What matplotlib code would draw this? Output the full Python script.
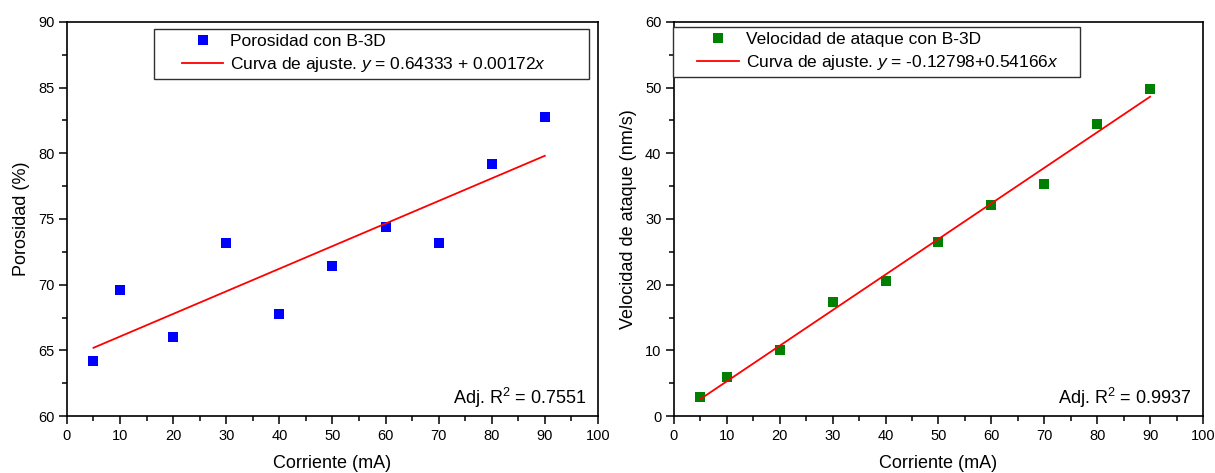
import matplotlib
matplotlib.use("Agg")
import matplotlib.pyplot as plt
from matplotlib.ticker import MultipleLocator
from matplotlib.lines import Line2D
from matplotlib.legend_handler import HandlerLine2D
import numpy as np

plt.rcParams["font.family"] = ["Liberation Sans", "DejaVu Sans"]
plt.rcParams["mathtext.fontset"] = "custom"
plt.rcParams["mathtext.rm"] = "Liberation Sans"
plt.rcParams["mathtext.it"] = "Liberation Sans:italic"

# Data
corriente = [5, 10, 20, 30, 40, 50, 60, 70, 80, 90]
porosidad = [64.2, 69.6, 66.0, 73.2, 67.8, 71.4, 74.4, 73.2, 79.2, 82.8]
velocidad = [2.9, 5.9, 10.0, 17.4, 20.5, 26.5, 32.2, 35.3, 44.5, 49.8]

# Linear fit coefficients (porosity fit given as a fraction)
por_a, por_b = 0.64333, 0.00172
vel_a, vel_b = -0.12798, 0.54166
por_r2 = 0.7551
vel_r2 = 0.9937


class ShiftedHandler(HandlerLine2D):
    """Line handler that leaves an empty gap on the left of the handle box."""

    def __init__(self, gap, **kw):
        super().__init__(**kw)
        self.gap = gap

    def create_artists(self, legend, orig_handle, xdescent, ydescent,
                       width, height, fontsize, trans):
        off = width * self.gap
        return super().create_artists(legend, orig_handle, xdescent - off,
                                      ydescent, width - off, height,
                                      fontsize, trans)


fig = plt.figure(figsize=(12.15, 4.73), dpi=100)
ax1 = fig.add_axes([0.0551, 0.1205, 0.437, 0.833])
ax2 = fig.add_axes([0.5547, 0.1205, 0.4354, 0.833])

xfit = np.array([min(corriente), max(corriente)], dtype=float)


def style_axes(ax, ylim, ymajor, yminor):
    ax.set_xlim(0, 100)
    ax.set_ylim(*ylim)
    ax.xaxis.set_major_locator(MultipleLocator(10))
    ax.xaxis.set_minor_locator(MultipleLocator(5))
    ax.yaxis.set_major_locator(MultipleLocator(ymajor))
    ax.yaxis.set_minor_locator(MultipleLocator(yminor))
    ax.tick_params(which="both", direction="out", top=False, right=False,
                   labelsize=10.5, width=1.1, pad=3)
    ax.tick_params(which="major", length=6)
    ax.tick_params(which="minor", length=3.5)
    for sp in ax.spines.values():
        sp.set_linewidth(1.2)
    ax.set_xlabel("Corriente (mA)", fontsize=13, labelpad=9)


def make_legend(ax, anchor, hlen, gap):
    leg = ax.legend(loc="upper left", bbox_to_anchor=anchor, mode="expand",
                    fontsize=12.5, frameon=True, fancybox=False,
                    edgecolor="#303030", framealpha=1, borderpad=0.3,
                    labelspacing=0.3, handlelength=hlen, handletextpad=0.4,
                    borderaxespad=0,
                    handler_map={Line2D: ShiftedHandler(gap)})
    leg.get_frame().set_linewidth(1.0)
    return leg


# Left panel: porosity
ax1.plot(corriente, porosidad, "s", color="#0000ff", markersize=6.5,
         markeredgewidth=0, label="Porosidad con B-3D")
ax1.plot(xfit, 100 * (por_a + por_b * xfit), "-", color="#ff0000", lw=1.3,
         label=r"Curva de ajuste. $\mathit{y}$ = $\mathit{0.64333}$ + "
               r"$\mathit{0.00172x}$")
style_axes(ax1, (60, 90), 5, 2.5)
ax1.set_ylabel("Porosidad (%)", fontsize=13, labelpad=6)
ax1.text(0.978, 0.015, r"Adj. R$^2$ = %.4f" % por_r2, transform=ax1.transAxes,
         ha="right", va="bottom", fontsize=13)
make_legend(ax1, (0.1638, 0.0, 0.8193, 0.982), 3.7, 0.36)

# Right panel: etch rate
ax2.plot(corriente, velocidad, "s", color="#008000", markersize=6.5,
         markeredgewidth=0, label="Velocidad de ataque con B-3D")
ax2.plot(xfit, vel_a + vel_b * xfit, "-", color="#ff0000", lw=1.3,
         label="Curva de ajuste. $\\mathit{y}$ = "
               "$\\mathit{\u20100.12798}$+$\\mathit{0.54166x}$")
style_axes(ax2, (0, 60), 10, 5)
ax2.set_ylabel("Velocidad de ataque (nm/s)", fontsize=13, labelpad=6)
ax2.text(0.978, 0.015, r"Adj. R$^2$ = %.4f" % vel_r2, transform=ax2.transAxes,
         ha="right", va="bottom", fontsize=13)
make_legend(ax2, (-0.0019, 0.0, 0.769, 0.987), 3.5, 0.31)

fig.savefig("out.png", dpi=100)
